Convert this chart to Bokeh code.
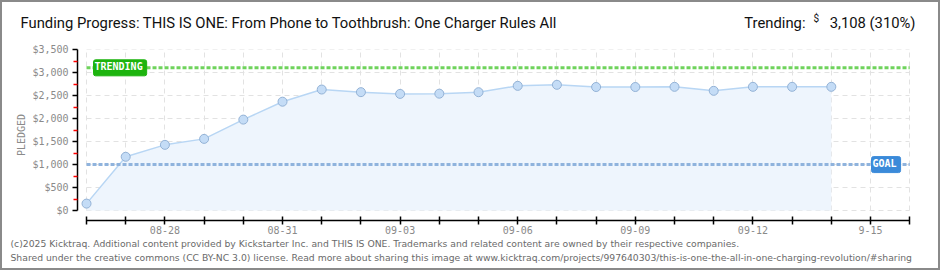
from bokeh.plotting import figure
from bokeh.layouts import column
from bokeh.models import Range1d, FixedTicker, Label, ColumnDataSource
from bokeh.core.properties import value
from bokeh.embed import file_html
from bokeh.resources import INLINE

# ---- data ----
days = ["08-26", "08-27", "08-28", "08-29", "08-30", "08-31", "09-01", "09-02",
        "09-03", "09-04", "09-05", "09-06", "09-07", "09-08", "09-09", "09-10",
        "09-11", "09-12", "09-13", "09-14"]
pledged = [150, 1170, 1430, 1560, 1980, 2370, 2635, 2578, 2540, 2545,
           2577, 2715, 2738, 2690, 2690, 2694, 2607, 2694, 2694, 2694]
goal = 1000
trending = 3108
trending_pct = 310
y_ticks = [0, 500, 1000, 1500, 2000, 2500, 3000, 3500]
y_minor = [250, 750, 1250, 1750, 2250, 2750, 3250]
x_tick_pos = [2, 5, 8, 11, 14, 17, 20]
x_tick_labels = ["08-28", "08-31", "09-03", "09-06", "09-09", "09-12", "9-15"]
axis_days = 22  # 08-26 .. 09-16

title_text = "Funding Progress: THIS IS ONE: From Phone to Toothbrush: One Charger Rules All"
footer1 = ("(c)2025 Kicktraq. Additional content provided by Kickstarter Inc. and THIS IS ONE. "
           "Trademarks and related content are owned by their respective companies.")
footer2 = ("Shared under the creative commons (CC BY-NC 3.0) license. Read more about sharing this image at "
           "www.kicktraq.com/projects/997640303/this-is-one-the-all-in-one-charging-revolution/#sharing")

W = 936
head_font = "Roboto"
head_size = "14.8px"


def blank(h):
    f = figure(width=W, height=h, output_backend="svg", toolbar_location=None,
               x_range=Range1d(0, W), y_range=Range1d(h, 0),
               min_border=0, min_border_left=0, min_border_right=0,
               min_border_top=0, min_border_bottom=0, frame_align=False)
    f.axis.visible = False
    f.grid.visible = False
    f.outline_line_color = None
    f.background_fill_color = "white"
    f.border_fill_color = "white"
    return f


# ---- header ----
top = blank(30)
top.text(x=[18], y=[20], text=[title_text], text_font=value(head_font), text_font_size=head_size,
         text_color="#111111", text_baseline="middle", text_align="left")
top.text(x=[803], y=[20], text=["Trending:"], text_font=value(head_font), text_font_size=head_size,
         text_color="#111111", text_baseline="middle", text_align="right")
top.text(x=[811], y=[16], text=["$"], text_font=value(head_font), text_font_size="10px",
         text_color="#111111", text_baseline="middle", text_align="left")
top.text(x=[913], y=[20], text=["{:,} ({}%)".format(trending, trending_pct)], text_font=value(head_font),
         text_font_size=head_size, text_color="#111111", text_baseline="middle", text_align="right")

# ---- main chart ----
x = list(range(len(days)))
src = ColumnDataSource(dict(x=x, y=pledged, base=[0] * len(x)))
last_tick = axis_days - 1

p = figure(width=W, height=206, output_backend="svg", toolbar_location=None,
           x_range=Range1d(-0.23, 21.02), y_range=Range1d(-218, 3507),
           min_border_left=75, min_border_right=28, min_border_top=17, min_border_bottom=18,
           frame_align=False)
p.outline_line_color = None
p.background_fill_color = "white"
p.border_fill_color = "white"

p.xgrid.ticker = FixedTicker(ticks=list(range(axis_days)))
p.ygrid.ticker = FixedTicker(ticks=y_ticks)
for g in (p.xgrid, p.ygrid):
    g.grid_line_color = "#e2e2e2"
    g.grid_line_dash = "5 4"
    g.grid_line_width = 1
p.xgrid.bounds = (0, last_tick)
p.ygrid.bounds = (0, y_ticks[-1])
p.xgrid.cross_bounds = (0, y_ticks[-1])
p.ygrid.cross_bounds = (0, last_tick)

ya = p.yaxis[0]
ya.ticker = FixedTicker(ticks=y_ticks, minor_ticks=y_minor)
ya.bounds = (0, y_ticks[-1])
ya.major_label_overrides = {v: "${:,}".format(v) for v in y_ticks}
ya.axis_line_color = "black"
ya.axis_line_width = 1.5
ya.major_tick_line_color = "black"
ya.major_tick_line_width = 1.5
ya.major_tick_in = 0
ya.major_tick_out = 5
ya.minor_tick_line_color = "red"
ya.minor_tick_line_width = 1.5
ya.minor_tick_in = 0
ya.minor_tick_out = 4
ya.major_label_standoff = 4
ya.major_label_text_font = "DejaVu Sans Mono"
ya.major_label_text_font_size = "10px"
ya.major_label_text_color = "#8a8a8a"
ya.axis_label = "PLEDGED"
ya.axis_label_text_font = "DejaVu Sans Mono"
ya.axis_label_text_font_size = "10px"
ya.axis_label_text_font_style = "normal"
ya.axis_label_text_color = "#8a8a8a"
ya.axis_label_standoff = 2

xa = p.xaxis[0]
xa.ticker = FixedTicker(ticks=list(range(axis_days)))
xa.bounds = (0, last_tick)
xa.major_label_overrides = {i: "" for i in range(axis_days)}
xa.major_label_overrides.update({pos: lab for pos, lab in zip(x_tick_pos, x_tick_labels)})
xa.axis_line_color = "black"
xa.axis_line_width = 1.5
xa.major_tick_line_color = "black"
xa.major_tick_line_width = 1.5
xa.major_tick_in = 4
xa.major_tick_out = 4
xa.minor_tick_line_color = None
xa.major_label_standoff = 1
xa.major_label_text_font = "DejaVu Sans Mono"
xa.major_label_text_font_size = "10px"
xa.major_label_text_color = "#8a8a8a"

p.varea(x="x", y1="base", y2="y", source=src, fill_color="#eef5fd")
p.line(x="x", y="y", source=src, line_color="#b8d6f4", line_width=1.5)

p.segment(x0=[0], x1=[last_tick], y0=[trending], y1=[trending],
          line_color="#6fd35c", line_width=3, line_dash="4 2")
p.segment(x0=[0], x1=[last_tick], y0=[goal], y1=[goal],
          line_color="#8fb3dd", line_width=3, line_dash="4 2")

p.scatter(x="x", y="y", source=src, size=9, fill_color="#c4dcf6",
          line_color="#93b2d6", line_width=1)

p.add_layout(Label(x=16, x_units="screen", y=trending, text="TRENDING",
                   text_font="DejaVu Sans Mono", text_font_size="10px", text_font_style="bold",
                   text_color="white", text_baseline="middle", text_align="left",
                   background_fill_color="#1db40e", border_line_color="#1db40e",
                   padding=[1, 4, 1, 4], border_radius=2))
p.add_layout(Label(x=794, x_units="screen", y=goal, text="GOAL",
                   text_font="DejaVu Sans Mono", text_font_size="10px", text_font_style="bold",
                   text_color="white", text_baseline="middle", text_align="left",
                   background_fill_color="#3b8ad9", border_line_color="#3b8ad9",
                   padding=[1, 4, 1, 4], border_radius=2))

# ---- footer ----
bot = blank(30)
bot.text(x=[8, 8], y=[5, 19], text=[footer1, footer2], text_font=value("DejaVu Sans"),
         text_font_size="9.25px", text_color="#6a6a6a", text_baseline="middle", text_align="left")

layout = column(top, p, bot, spacing=0)
layout.styles = {"border": "2px solid #8a8a8a"}

open("out.html", "w").write(file_html(layout, INLINE))
